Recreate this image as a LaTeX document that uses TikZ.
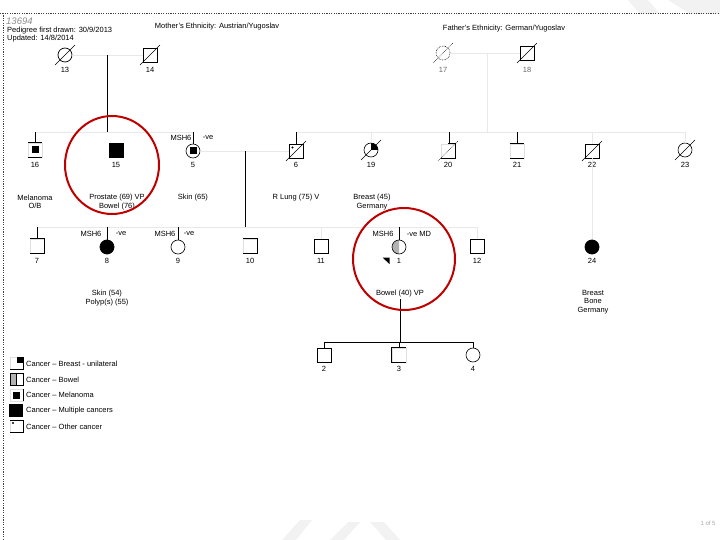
\documentclass[tikz,border=0pt]{standalone}
\usepackage{fontspec}
\setmainfont{Liberation Sans}
\newcommand\fsz{\fontsize{7.5}{8.2}\selectfont}
\newcommand\pdead[1]{\draw[dec] (#1.center) ++(-10,10) -- ++(20,-20);}
\begin{document}
\begin{tikzpicture}[x=1pt,y=-1pt,
  every node/.style={font=\fsz, inner sep=0pt},
  sq/.style={draw, line width=0.8pt, minimum size=14pt, inner sep=0pt},
  ci/.style={draw, circle, line width=0.8pt, minimum size=14pt, inner sep=0pt},
  faint/.style={draw=black!9, line width=0.7pt},
  ln/.style={line width=0.8pt},
  dec/.style={line width=0.6pt},
  txt/.style={align=center, font=\fsz},
  redring/.style={draw=red!75!black, line width=2pt}]
\useasboundingbox (0,0) rectangle (720,540);
% faint watermark
\fill[blue!4!black!5] (628,0) -- (648,0) -- (660,14) -- (640,14) -- cycle;
\fill[blue!4!black!5] (668,0) -- (720,0) -- (720,14) -- (690,14) -- cycle;
\fill[blue!4!black!5] (282,540) -- (300,520) -- (312,520) -- (296,540) -- cycle;
\fill[blue!4!black!5] (330,540) -- (348,522) -- (360,522) -- (344,540) -- cycle;
\fill[blue!4!black!5] (370,522) -- (384,522) -- (400,540) -- (386,540) -- cycle;
% border
\draw[black!75, line width=0.8pt, dash pattern=on 1.2pt off 1.2pt] (0,13) -- (720,13);
\draw[black!75, line width=0.8pt, dash pattern=on 1.2pt off 1.2pt] (3,13) -- (3,540);
% header
\node[anchor=west, font=\fontsize{9.5}{10}\selectfont\itshape, text=black!45] (hid) at (6,21) {13694};
\node[anchor=west] (h1) at (7,31) {Pedigree first drawn: 30/9/2013};
\node[anchor=west] (h2) at (7,39) {Updated: 14/8/2014};
\node (hm) at (217,27) {Mother's Ethnicity: Austrian/Yugoslav};
\node (hf) at (504,29) {Father's Ethnicity: German/Yugoslav};
\node[text=black!35, font=\fontsize{6}{7}\selectfont] (pg) at (708,523) {1 of 5};

% ---------- generation I ----------
\node[ci, line width=0.7pt] (n13) at (65,55) {};
\node[sq, line width=0.7pt] (n14) at (150,55) {};
\node[ci, line width=0.6pt, densely dotted] (n17) at (443,53) {};
\node[sq] (n18) at (527,53) {};
\pdead{n13} \pdead{n14} \pdead{n18}
\draw[dec, densely dotted] (n17.center) ++(-10,10) -- ++(20,-20);
\node (l13) at (65,70) {13};
\node (l14) at (150,70) {14};
\node[text=black!60] (l17) at (443,70) {17};
\node[text=black!60] (l18) at (527,70) {18};
\draw[faint] (n13) -- (n14);
\draw[faint] (n17) -- (n18);
\coordinate (m1) at (107,55);
\coordinate (m2) at (107,133);
\draw[ln] (m1) -- (m2);
\coordinate (f1) at (487,53);
\coordinate (f2) at (487,132);
\draw[faint] (f1) -- (f2);

% ---------- generation II ----------
\node[sq, draw=black!12] (n16) at (35,150) {};
\draw[ln] (n16.north west) -- (n16.north east);
\draw[ln] (n16.south west) -- (n16.south east);
\fill (31.5,146.5) rectangle (38.5,153.5);
\node[sq, fill=black] (n15) at (116,150) {};
\node[ci, line width=0.6pt] (n5) at (193,151) {};
\fill (189.5,147.5) rectangle (196.5,154.5);
\node[sq] (n6) at (296,151) {};
\fill (292.5,147.5) circle (1.2pt);
\pdead{n6}
\node[ci, line width=0.6pt] (n19) at (371,150) {};
\begin{scope}
  \clip (371,150) rectangle (380,141);
  \fill (371,150) circle (7pt);
\end{scope}
\pdead{n19}
\node[sq, draw=black!12] (n20) at (448,151) {};
\draw[ln] (n20.north) -- (n20.north east) -- (n20.south east) -- (n20.south west);
\draw[dec, densely dotted] (n20.center) ++(-10,10) -- ++(20,-20);
\node[sq, draw=black!12] (n21) at (517,151) {};
\draw[ln] (n21.north west) -- (n21.north east);
\draw[ln] (n21.south west) -- (n21.south east);
\node[sq] (n22) at (592,151) {};
\pdead{n22}
\node[ci, line width=0.6pt] (n23) at (685,150) {};
\pdead{n23}

\node (l16) at (35,165) {16};
\node (l15) at (116,165) {15};
\node (l5) at (193,165) {5};
\node (l6) at (296,165) {6};
\node (l19) at (371,165) {19};
\node (l20) at (448,165) {20};
\node (l21) at (517,165) {21};
\node (l22) at (592,165) {22};
\node (l23) at (685,165) {23};

\node (g5a) at (181,138) {MSH6};
\node (g5b) at (208,138) {-ve};

% sibship lines gen II
\coordinate (ms1) at (35,132);
\coordinate (ms2) at (193,132);
\draw[faint] (ms1) -- (ms2);
\draw[ln] (ms1) -- (n16.north);
\draw[ln] (ms2) -- (n5.north);
\coordinate (fs1) at (296,132);
\coordinate (fs2) at (685,132);
\draw[faint] (fs1) -- (fs2);
\draw[ln] (fs1) -- (n6.north);
\coordinate (fs19) at (371,132);
\draw[faint] (fs19) -- (n19.north);
\coordinate (fs20) at (449,132);
\draw[ln] (fs20) -- (449,144);
\coordinate (fs21) at (517,132);
\draw[ln] (fs21) -- (n21.north);
\coordinate (fs22) at (592,132);
\draw[faint] (fs22) -- (n22.north);
\draw[faint] (fs2) -- (n23.north);
% couple 5-6
\draw[faint] (n5) -- (n6);
\coordinate (d1) at (245,151);
\coordinate (d2) at (245,227);
\draw[ln] (d1) -- (d2);
\draw[faint] (n22) -- (592,240);

% annotations gen II
\node[txt] (a16) at (35,202) {Melanoma\\O/B};
\node[txt] (a15) at (117,202) {Prostate (69) VP\\Bowel (76)};
\node[txt] (a5) at (193,198) {Skin (65)};
\node[txt] (a6) at (296,198) {R Lung (75) V};
\node[txt] (a19) at (372,202) {Breast (45)\\Germany};

% ---------- generation III ----------
\coordinate (s1) at (38,227);
\coordinate (s2) at (478,227);
\draw[faint] (s1) -- (s2);
\node[sq, draw=black!12] (n7) at (37,246) {};
\draw[ln] (n7.north west) -- (n7.north east) -- (n7.south east) -- (n7.south west);
\node[ci, fill=black] (n8) at (107,247) {};
\node[ci, line width=0.6pt] (n9) at (178,247) {};
\node[sq, draw=black!12] (n10) at (250,246) {};
\draw[ln] (n10.north west) -- (n10.north east) -- (n10.south east) -- (n10.south west);
\node[sq] (n11) at (321,246) {};
\begin{scope}
  \clip (391,238) rectangle (399,256);
  \fill[black!30] (399,247) circle (7pt);
\end{scope}
\node[ci, line width=0.6pt] (n1) at (399,247) {};
\node[sq] (n12) at (477,246) {};
\node[ci, fill=black] (n24) at (592,247) {};
\fill (382.5,257.5) -- (389.5,257.5) -- (389.5,264) -- cycle;

\draw[ln] (37,227) -- (n7.north);
\draw[ln] (107,227) -- (n8.north);
\draw[ln] (178,227) -- (n9.north);
\draw[ln] (399,227) -- (n1.north);
\draw[faint] (321,227) -- (n11.north);
\draw[faint] (477,227) -- (n12.north);

\node (l7) at (37,261) {7};
\node (l8) at (107,261) {8};
\node (l9) at (178,261) {9};
\node (l10) at (250,261) {10};
\node (l11) at (321,261) {11};
\node (l1) at (399,261) {1};
\node (l12) at (477,261) {12};
\node (l24) at (592,261) {24};

\node (g8a) at (91,234) {MSH6};
\node (g8b) at (121,234) {-ve};
\node (g9a) at (165,234) {MSH6};
\node (g9b) at (189,234) {-ve};
\node (g1a) at (383,234) {MSH6};
\node (g1b) at (419,234) {-ve MD};

\node[txt] (a8) at (107,298) {Skin (54)\\Polyp(s) (55)};
\node[txt] (a1) at (400,294) {Bowel (40) VP};
\node[txt] (a24) at (593,302) {Breast\\Bone\\Germany};

% ---------- generation IV ----------
\coordinate (c1) at (400,299);
\coordinate (c2) at (400,342);
\draw[ln] (c1) -- (c2);
\coordinate (g4a) at (324,342);
\coordinate (g4b) at (473,342);
\draw[ln] (g4a) -- (g4b);
\node[sq] (n2) at (324,355) {};
\node[sq, draw=black!12] (n3) at (399,355) {};
\draw[ln] (n3.north east) -- (n3.north west) -- (n3.south west) -- (n3.south east);
\node[ci, line width=0.6pt] (n4) at (473,355) {};
\draw[ln] (g4a) -- (n2.north);
\draw[ln] (399,342) -- (n3.north);
\draw[ln] (g4b) -- (n4.north);
\node (l2) at (324,369) {2};
\node (l3) at (399,369) {3};
\node (l4) at (473,369) {4};

% ---------- red rings ----------
\draw[redring] (112,165) ellipse [x radius=47, y radius=49];
\draw[redring] (404,259) circle (51pt);

% ---------- legend ----------
\draw[black!12, line width=0.7pt] (10,357) rectangle (23,369);
\draw[ln] (23,357) -- (23,369) -- (10,369);
\fill (16.5,357) rectangle (23,363);
\node[anchor=west] (k1) at (26,364) {Cancer -- Breast - unilateral};
\fill[black!30] (10,373) rectangle (16.5,385);
\draw[ln] (10,373) rectangle (23,385);
\draw[ln] (16.5,373) -- (16.5,385);
\node[anchor=west] (k2) at (26,380) {Cancer -- Bowel};
\draw[black!12, line width=0.7pt] (10,389) rectangle (23,401);
\draw[ln] (23,389) -- (23,401);
\fill (12.5,391.5) rectangle (20,398.5);
\node[anchor=west] (k3) at (26,395) {Cancer -- Melanoma};
\fill (9,404) rectangle (23,417);
\node[anchor=west] (k4) at (26,411) {Cancer -- Multiple cancers};
\draw[black!12, line width=0.7pt] (10,420) rectangle (23,432);
\draw[ln] (10,420) -- (23,420) -- (23,432) -- (10,432);
\fill (13,423) circle (1.2pt);
\node[anchor=west] (k5) at (26,427) {Cancer -- Other cancer};
\end{tikzpicture}
\end{document}
